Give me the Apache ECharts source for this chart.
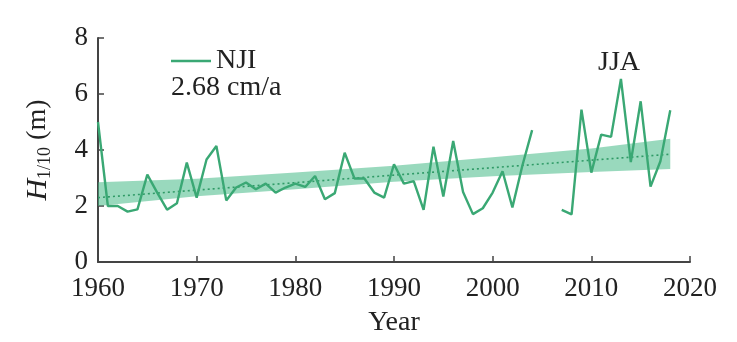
<!DOCTYPE html>
<html><head><meta charset="utf-8">
<script src="https://cdn.jsdelivr.net/npm/echarts@6/dist/echarts.min.js"></script>
<style>html,body{margin:0;padding:0;background:#fff}#c{width:737px;height:342px}</style>
</head><body><div id="c"></div>
<script>
const years = [1960,1961,1962,1963,1964,1965,1966,1967,1968,1969,1970,1971,1972,1973,1974,1975,1976,1977,1978,1979,1980,1981,1982,1983,1984,1985,1986,1987,1988,1989,1990,1991,1992,1993,1994,1995,1996,1997,1998,1999,2000,2001,2002,2003,2004,2005,2006,2007,2008,2009,2010,2011,2012,2013,2014,2015,2016,2017,2018];
const h110 = [5.0,2.0,2.0,1.8,1.88,3.12,2.48,1.87,2.1,3.55,2.3,3.66,4.14,2.2,2.66,2.84,2.6,2.8,2.48,2.66,2.8,2.68,3.07,2.24,2.46,3.9,2.98,2.98,2.48,2.3,3.49,2.8,2.89,1.86,4.12,2.34,4.32,2.5,1.71,1.92,2.48,3.24,1.95,3.43,4.71,null,null,1.86,1.7,5.44,3.19,4.55,4.47,6.54,3.57,5.74,2.69,3.6,5.42];
const trendYears = [1960, 2018];
const trendValues = [2.3, 3.85];
const bandYears = [1960,1970,1980,1990,2000,2010,2018];
const bandLower = [2.0,2.35,2.6,2.87,3.06,3.21,3.32];
const bandUpper = [2.85,2.97,3.2,3.44,3.74,4.05,4.4];
const xTicks = [1960,1970,1980,1990,2000,2010,2020];
const yTicks = [0,2,4,6,8];

const chart = echarts.init(document.getElementById('c'));
const FONT = '"Liberation Serif","Times New Roman",serif';
chart.setOption({
  backgroundColor:'#fff',
  animation:false,
  grid:{left:98,right:47,top:38,bottom:79},
  legend:{
    data:['NJI'], left:166, top:42, icon:'rect', itemWidth:40, itemHeight:2.5, itemGap:4,
    textStyle:{fontFamily:FONT,fontSize:28,color:'#222',padding:[0,0,0,0]}
  },
  xAxis:{
    type:'value', min:xTicks[0], max:xTicks[xTicks.length-1], interval:10,
    name:'Year', nameLocation:'middle', nameGap:47,
    nameTextStyle:{fontFamily:FONT,fontSize:28,color:'#222'},
    axisLine:{lineStyle:{color:'#444',width:2}},
    axisTick:{inside:true,length:6,lineStyle:{color:'#444',width:1.5}},
    axisLabel:{fontFamily:FONT,fontSize:27,color:'#222',margin:13,formatter:v=>String(v)},
    splitLine:{show:false}
  },
  yAxis:{
    type:'value', min:yTicks[0], max:yTicks[yTicks.length-1], interval:2,
    name:'{i|H}{s|1/10}{n| (m)}', nameLocation:'middle', nameGap:44, nameRotate:90,
    nameTextStyle:{rich:{
      i:{fontFamily:FONT,fontSize:30,fontStyle:'italic',color:'#222'},
      s:{fontFamily:FONT,fontSize:18,color:'#222',verticalAlign:'bottom',padding:[14,0,0,0]},
      n:{fontFamily:FONT,fontSize:28,color:'#222'}
    }},
    axisLine:{show:true,lineStyle:{color:'#444',width:2}},
    axisTick:{show:true,inside:true,length:6,lineStyle:{color:'#444',width:1.5}},
    axisLabel:{fontFamily:FONT,fontSize:27,color:'#222',margin:10},
    splitLine:{show:false}
  },
  graphic:[
    {type:'text',left:171,top:74,style:{text:'2.68 cm/a',font:'28px "Liberation Serif", serif',fill:'#222'}},
    {type:'text',left:598,top:49,style:{text:'JJA',font:'28px "Liberation Serif", serif',fill:'#222'}}
  ],
  series:[
    {
      type:'custom', name:'band', silent:true, z:1,
      data: bandYears.map((y,i)=>[y,bandLower[i],bandUpper[i]]),
      renderItem:function(params,api){
        if(params.dataIndex!==0) return;
        const top = bandYears.map((y,i)=>api.coord([y,bandUpper[i]]));
        const bot = bandYears.map((y,i)=>api.coord([y,bandLower[i]])).reverse();
        return {type:'polygon',shape:{points:top.concat(bot)},style:{fill:'rgba(70,185,135,0.55)'}};
      }
    },
    {
      type:'line', name:'trend', z:2, symbol:'none',
      data: trendYears.map((y,i)=>[y,trendValues[i]]),
      lineStyle:{color:'#2f9a66',width:1.6,type:[2,3]}
    },
    {
      type:'line', name:'NJI', z:3, symbol:'none',
      data: years.map((y,i)=>[y,h110[i]]),
      connectNulls:false,
      lineStyle:{color:'#3aa874',width:2.4},
      itemStyle:{color:'#3aa874'}
    }
  ]
});
</script></body></html>
